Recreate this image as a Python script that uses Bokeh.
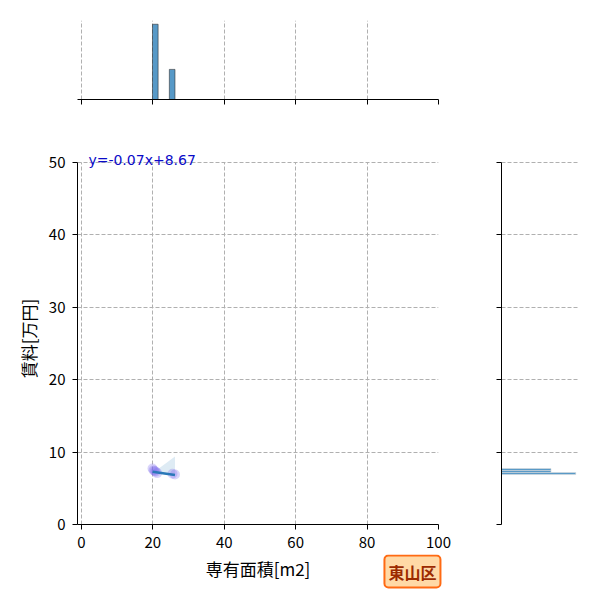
import numpy as np
from bokeh.plotting import figure
from bokeh.layouts import column, row
from bokeh.models import Range1d, Label
from bokeh.embed import file_html
from bokeh.resources import INLINE

# points (area m2, rent 10k yen)
x_area = [19.9, 20.2, 20.5, 20.8, 21.2, 25.5, 26.2]
y_rent = [7.73, 7.5, 7.4, 7.3, 7.1, 7.0, 6.9]

# regression line from the label, band
fit_slope = -0.07
fit_intercept = 8.67
band_x = [19.9, 21.2, 26.2]
band_upper = [7.6, 7.55, 9.4]
band_lower = [7.15, 7.1, 6.7]

x_ticks = [0, 20, 40, 60, 80, 100]
y_ticks = [0, 10, 20, 30, 40, 50]
x_label = "専有面積[m2]"
y_label = "賃料[万円]"
ward = "東山区"
fit_text = "y=-0.07x+8.67"

FONT = "Noto Sans CJK JP"
BLUE = "#1f77b4"
GRID = "#b0b0b0"


def style_axis(ax):
    ax.axis_line_color = "black"
    ax.axis_line_width = 1
    ax.major_tick_line_color = "black"
    ax.major_tick_out = 5
    ax.major_tick_in = 0
    ax.minor_tick_line_color = None
    ax.major_label_text_font = FONT
    ax.major_label_text_font_size = "15px"
    ax.major_label_text_color = "black"
    ax.major_label_standoff = 7
    ax.axis_label_text_font = FONT
    ax.axis_label_text_font_size = "17px"
    ax.axis_label_text_font_style = "normal"
    ax.axis_label_text_color = "black"


def style_grid(g):
    g.grid_line_color = GRID
    g.grid_line_dash = "4 2"
    g.grid_line_width = 1


x_range = Range1d(-1.1, 100)
# a little room above 50 so the fit text is not cut; axis and grid stop at 50
y_range = Range1d(0, 51.38)

# ---- main scatter
main = figure(frame_width=361, frame_height=372, x_range=x_range, y_range=y_range,
              min_border_left=77, min_border_right=20, min_border_top=23, min_border_bottom=30,
              output_backend="svg", toolbar_location=None, tools="")
main.outline_line_color = None
main.xaxis.ticker = x_ticks
main.yaxis.ticker = y_ticks
main.yaxis.bounds = (0, 50)
main.yaxis.axis_label = y_label
for ax in main.axis:
    style_axis(ax)
style_grid(main.xgrid)
style_grid(main.ygrid)
main.xgrid.cross_bounds = (0, 50)

main.varea(x=band_x, y1=band_lower, y2=band_upper, fill_color=BLUE, fill_alpha=0.15)
main.scatter(x_area, y_rent, size=10, fill_color="#7b68ee", fill_alpha=0.28, line_color=None)
line_x = np.array([min(x_area), max(x_area)])
main.line(line_x, fit_slope * line_x + fit_intercept, line_color="#2a78b8", line_width=2.5)

main.add_layout(Label(x=1.95, y=50.3, text=fit_text, text_font="DejaVu Sans",
                      text_font_size="14px", text_color="#0a0ac8", text_baseline="middle"))

# ---- top histogram (area)
top_counts, top_edges = np.histogram(x_area, bins=4)
top = figure(frame_width=361, frame_height=79, x_range=x_range, y_range=Range1d(0, 5.25),
             min_border_left=77, min_border_right=20, min_border_top=20, min_border_bottom=30,
             y_axis_location=None, output_backend="svg", toolbar_location=None, tools="")
top.outline_line_color = None
top.xaxis.ticker = x_ticks
top.xaxis.major_label_overrides = {t: "" for t in x_ticks}
style_axis(top.xaxis[0])
style_grid(top.xgrid)
top.ygrid.grid_line_color = None
top.quad(left=top_edges[:-1], right=top_edges[1:], bottom=0, top=top_counts,
         fill_color=BLUE, fill_alpha=0.75, line_color="#333333", line_width=0.6)

# ---- right histogram (rent)
right_counts, right_edges = np.histogram(y_rent, bins=3)
right = figure(frame_width=78, frame_height=372, x_range=Range1d(0, 3.15), y_range=y_range,
               min_border_left=43, min_border_right=10, min_border_top=23, min_border_bottom=30,
               x_axis_location=None, output_backend="svg", toolbar_location=None, tools="")
right.outline_line_color = None
right.yaxis.ticker = y_ticks
right.yaxis.bounds = (0, 50)
right.yaxis.major_label_overrides = {t: "" for t in y_ticks}
style_axis(right.yaxis[0])
style_grid(right.ygrid)
right.xgrid.grid_line_color = None
right.quad(left=0, right=right_counts, bottom=right_edges[:-1], top=right_edges[1:],
           fill_color=BLUE, fill_alpha=0.75, line_color="#dddddd", line_width=0.6)

# ---- strip under the scatter: x axis title and the ward tag
# same scale as the main x axis, frame 20px wider so the tag is not cut
bottom = figure(frame_width=381, frame_height=40, x_range=Range1d(-1.1, 100 + 20 / 3.5743),
                y_range=Range1d(0, 40),
                min_border_left=77, min_border_right=0, min_border_top=0, min_border_bottom=0,
                x_axis_location=None, y_axis_location=None,
                output_backend="svg", toolbar_location=None, tools="")
bottom.outline_line_color = None
bottom.xgrid.grid_line_color = None
bottom.ygrid.grid_line_color = None
bottom.add_layout(Label(x=49.45, y=26, text=x_label, text_font=FONT, text_font_size="17px",
                        text_color="black", text_align="center", text_baseline="middle"))
bottom.add_layout(Label(x=92.7, y=23, text=ward, text_font=FONT, text_font_size="16px",
                        text_font_style="bold", text_color="#9c2a00", text_align="center",
                        text_baseline="middle", background_fill_color="#ffd9a6",
                        border_line_color="#ff6a13", border_line_width=2, padding=4,
                        border_radius=4))

p = column(top, row(main, right), bottom)
open("out.html", "w").write(file_html(p, INLINE))
